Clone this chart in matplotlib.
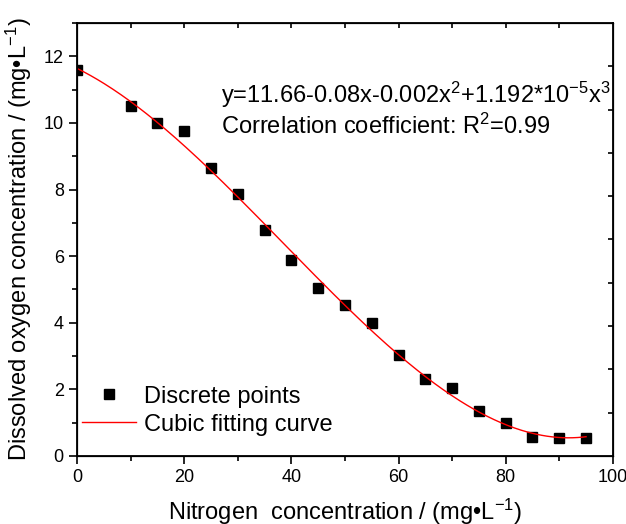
import numpy as np
import matplotlib
matplotlib.use("Agg")
import matplotlib.pyplot as plt
from matplotlib.ticker import MultipleLocator

plt.rcParams['font.family'] = ['Liberation Sans', 'DejaVu Sans']
plt.rcParams['mathtext.fontset'] = 'custom'
plt.rcParams['mathtext.rm'] = 'Liberation Sans'
plt.rcParams['mathtext.it'] = 'Liberation Sans'

# data
nitrogen = [0, 10, 15, 20, 25, 30, 35, 40, 45, 50, 55, 60, 65, 70, 75, 80, 85, 90, 95]
oxygen = [11.58, 10.5, 10.0, 9.76, 8.66, 7.88, 6.78, 5.88, 5.03, 4.52, 3.98,
          3.02, 2.31, 2.03, 1.36, 0.99, 0.57, 0.55, 0.55]

# cubic fit of the points
coef = np.polyfit(nitrogen, oxygen, 3)
xf = np.linspace(0, 95, 300)
yf = np.polyval(coef, xf)

fig = plt.figure(figsize=(6.26, 5.24), dpi=100)
ax = fig.add_axes([0.123, 0.13, 0.856, 0.826])

ax.plot(nitrogen, oxygen, 's', color='black', ms=6.5, label='Discrete points')
ax.plot(xf, yf, '-', color='red', lw=1.0, label='Cubic fitting curve')

ax.set_xlim(0, 100)
ax.set_ylim(0, 13)
ax.xaxis.set_major_locator(MultipleLocator(20))
ax.xaxis.set_minor_locator(MultipleLocator(10))
ax.yaxis.set_major_locator(MultipleLocator(2))
ax.yaxis.set_minor_locator(MultipleLocator(1))
ax.tick_params(which='major', direction='out', length=6, width=1.2, labelsize=13)
ax.tick_params(which='minor', direction='out', length=3.5, width=1.2)
for s in ax.spines.values():
    s.set_linewidth(1.3)

# top and right ticks pointing inward
top = ax.twiny()
top.set_xlim(0, 100)
top.set_xticks(np.arange(10, 100, 10))
top.tick_params(direction='in', length=3.5, width=1.2, labeltop=False)
right = ax.twinx()
right.set_ylim(0, 10)
right.set_yticks(np.arange(1, 10, 1))
right.tick_params(direction='in', length=3.5, width=1.2, labelright=False)

ax.set_xlabel('Nitrogen  concentration / (mg•L$^{-1}$)', fontsize=17, labelpad=8)
ax.set_ylabel('Dissolved oxygen concentration / (mg•L$^{-1}$)', fontsize=17, labelpad=7)

ax.text(0.269, 0.815, 'y=11.66-0.08x-0.002x$^{2}$+1.192*10$^{-5}$x$^{3}$',
        transform=ax.transAxes, fontsize=17)
ax.text(0.269, 0.745, 'Correlation coefficient: R$^{2}$=0.99',
        transform=ax.transAxes, fontsize=17)

ax.legend(loc='lower left', bbox_to_anchor=(-0.008, 0.025), frameon=False, fontsize=17,
          handlelength=2.3, handletextpad=0.3, labelspacing=0.25, borderaxespad=0.3,
          borderpad=0.1)

fig.savefig('out.png', dpi=100)
